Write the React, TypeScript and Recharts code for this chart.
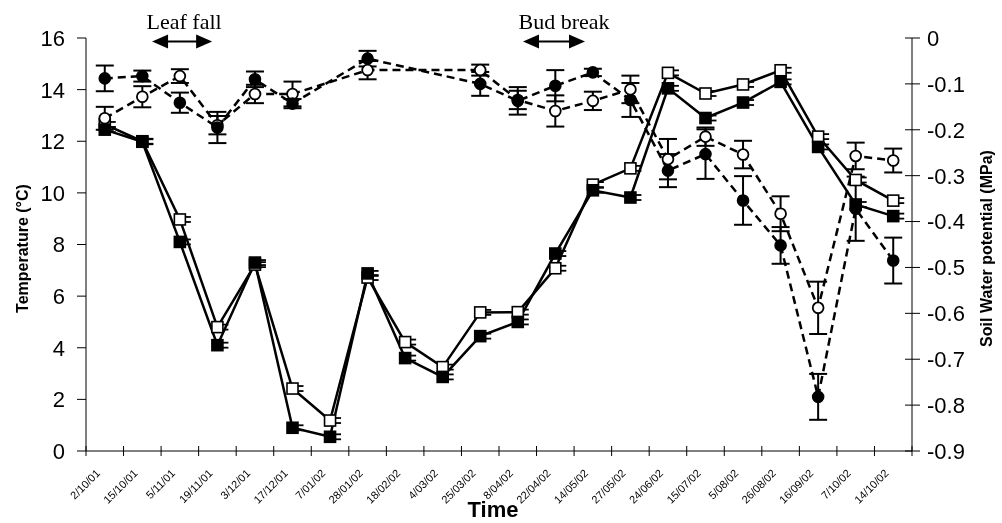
import React from 'react';
import { LineChart, Line, XAxis, YAxis, ErrorBar, ReferenceLine } from 'recharts';

// Sampling dates (one category per date)
const dates = [
  '2/10/01', '15/10/01', '5/11/01', '19/11/01', '3/12/01', '17/12/01', '7/01/02',
  '28/01/02', '18/02/02', '4/03/02', '25/03/02', '8/04/02', '22/04/02', '14/05/02',
  '27/05/02', '24/06/02', '15/07/02', '5/08/02', '26/08/02', '16/09/02', '7/10/02', '14/10/02',
];

// Soil temperature (°C)
const tempFilled = [12.45, 11.98, 8.1, 4.1, 7.3, 0.9, 0.55, 6.88, 3.6, 2.87, 4.45, 5.0, 7.65, 10.1, 9.82, 14.05, 12.9, 13.5, 14.3, 11.78, 9.55, 9.1];
const tempOpen = [12.65, 12.0, 8.97, 4.8, 7.22, 2.42, 1.18, 6.72, 4.22, 3.25, 5.37, 5.38, 7.08, 10.32, 10.95, 14.65, 13.85, 14.2, 14.75, 12.18, 10.5, 9.7];

// Soil water potential (MPa) with standard errors
const wpFilled = [-0.088, -0.083, -0.141, -0.195, -0.09, -0.143, null, -0.045, null, null, -0.1, -0.137, -0.104, -0.075, -0.135, -0.289, -0.253, -0.354, -0.452, -0.782, -0.372, -0.485];
const wpFilledErr = [0.028, 0.012, 0.022, 0.034, 0.017, 0.01, null, 0.017, null, null, 0.026, 0.03, 0.034, 0.008, 0.037, 0.036, 0.054, 0.053, 0.04, 0.05, 0.07, 0.05];
const wpOpen = [-0.175, -0.128, -0.083, -0.19, -0.122, -0.122, null, -0.07, null, null, -0.07, -0.135, -0.159, -0.137, -0.112, -0.264, -0.215, -0.254, -0.383, -0.588, -0.257, -0.267];
const wpOpenErr = [0.025, 0.023, 0.015, 0.02, 0.02, 0.027, null, 0.02, null, null, 0.012, 0.02, 0.034, 0.02, 0.03, 0.044, 0.02, 0.03, 0.038, 0.057, 0.029, 0.026];

// Axis ticks
const tempTicks = [0, 2, 4, 6, 8, 10, 12, 14, 16];
const wpTicks = [0, -0.1, -0.2, -0.3, -0.4, -0.5, -0.6, -0.7, -0.8, -0.9];
const boundaryTicks = [...dates.map((_, i) => i), dates.length];
const labelTicks = dates.map((_, i) => i + 0.5);
const xTicks = [...boundaryTicks, ...labelTicks].sort((a, b) => a - b);

const rows = dates.map((d, i) => ({
  pos: i + 0.5,
  date: d,
  tF: tempFilled[i],
  tO: tempOpen[i],
  wF: wpFilled[i],
  wFErr: wpFilledErr[i],
  wO: wpOpen[i],
  wOErr: wpOpenErr[i],
}));

const SANS = '"Liberation Sans", Arial, Helvetica, sans-serif';
const SERIF = '"Liberation Serif", "Times New Roman", serif';

const XTick = (p: any) => {
  const { x, y, payload, index } = p;
  const v = payload.value;
  if (Number.isInteger(v)) {
    return <line key={`xt-${index}`} x1={x} y1={y - 5} x2={x} y2={y + 5} stroke="#000" strokeWidth={1} />;
  }
  const label = dates[Math.floor(v)];
  const ax = x - 4;
  const ay = y + 23;
  return (
    <text key={`xt-${index}`} x={ax} y={ay} transform={`rotate(-45, ${ax}, ${ay})`} textAnchor="end" fontSize={11} fontFamily={SANS} fill="#000">
      {label}
    </text>
  );
};

const LeftTick = (p: any) => {
  const { x, y, payload, index } = p;
  return (
    <g key={`lt-${index}`}>
      <line x1={x - 9} y1={y} x2={x} y2={y} stroke="#000" strokeWidth={1} />
      <text x={x - 21} y={y} dy="0.36em" textAnchor="end" fontSize={22} fontFamily={SANS} fill="#000">
        {payload.value}
      </text>
    </g>
  );
};

const RightTick = (p: any) => {
  const { x, y, payload, index } = p;
  return (
    <g key={`rt-${index}`}>
      <line x1={x - 7} y1={y} x2={x + 8} y2={y} stroke="#000" strokeWidth={1} />
      <text x={x + 15} y={y} dy="0.36em" textAnchor="start" fontSize={22} fontFamily={SANS} fill="#000">
        {String(payload.value)}
      </text>
    </g>
  );
};

const squareDot = (filled: boolean) => (p: any) => {
  const { cx, cy, index } = p;
  if (cx == null || cy == null || Number.isNaN(cy)) return <g key={`sq-${index}`} />;
  const s = 11;
  return (
    <g key={`sq-${index}`}>
      <line x1={cx + 5} y1={cy - 2.5} x2={cx + 11} y2={cy - 2.5} stroke="#000" strokeWidth={1.8} />
      <line x1={cx + 5} y1={cy + 2.5} x2={cx + 11} y2={cy + 2.5} stroke="#000" strokeWidth={1.8} />
      <rect x={cx - s / 2} y={cy - s / 2} width={s} height={s} fill={filled ? '#000' : '#fff'} stroke="#000" strokeWidth={1.6} />
    </g>
  );
};

const circleDot = (filled: boolean) => (p: any) => {
  const { cx, cy, index } = p;
  if (cx == null || cy == null || Number.isNaN(cy)) return <g key={`ci-${index}`} />;
  return <circle key={`ci-${index}`} cx={cx} cy={cy} r={5.4} fill={filled ? '#000' : '#fff'} stroke="#000" strokeWidth={1.8} />;
};

const SpanArrow = (p: any) => {
  const { x1, y1, x2, text, textDx } = p;
  const L = 16;
  const h = 7;
  return (
    <g>
      <line x1={x1 + L - 2} y1={y1} x2={x2 - L + 2} y2={y1} stroke="#000" strokeWidth={2} />
      <polygon points={`${x1},${y1} ${x1 + L},${y1 - h} ${x1 + L},${y1 + h}`} fill="#000" />
      <polygon points={`${x2},${y1} ${x2 - L},${y1 - h} ${x2 - L},${y1 + h}`} fill="#000" />
      <text x={(x1 + x2) / 2 + textDx} y={y1 - 12.5} textAnchor="middle" fontFamily={SERIF} fontSize={22} fill="#000">
        {text}
      </text>
    </g>
  );
};

const LeftTitle = (p: any) => {
  const vb = p.viewBox || { x: 30, y: 38, width: 56, height: 413 };
  const cx = vb.x - 8;
  const cy = vb.y + vb.height / 2 + 4;
  return (
    <text x={cx} y={cy} transform={`rotate(-90, ${cx}, ${cy})`} textAnchor="middle" dominantBaseline="central" fontFamily={SANS} fontWeight="bold" fontSize={16} fill="#000">
      Temperature (°C)
    </text>
  );
};

const RightTitle = (p: any) => {
  const vb = p.viewBox || { x: 912, y: 38, width: 60, height: 413 };
  const cx = vb.x + 74;
  const cy = vb.y + vb.height / 2 + 4;
  return (
    <text x={cx} y={cy} transform={`rotate(-90, ${cx}, ${cy})`} textAnchor="middle" dominantBaseline="central" fontFamily={SANS} fontWeight="bold" fontSize={16} fill="#000">
      Soil Water potential (MPa)
    </text>
  );
};

const TimeTitle = (p: any) => {
  const vb = p.viewBox || { x: 86, y: 451, width: 826, height: 72 };
  return (
    <text x={vb.x + vb.width / 2 - 6} y={vb.y + 66} textAnchor="middle" fontFamily={SANS} fontWeight="bold" fontSize={22} fill="#000">
      Time
    </text>
  );
};

export default function App() {
  return (
    <div style={{ position: 'absolute', left: 0, top: 0, width: 1002, height: 523, background: '#fff', filter: 'grayscale(1)' }}>
      <LineChart width={1002} height={523} data={rows} margin={{ top: 38, right: 30, left: 30, bottom: 0 }}>
        <XAxis
          type="number"
          dataKey="pos"
          domain={[0, 22]}
          ticks={xTicks}
          interval={0}
          tick={XTick}
          tickLine={false}
          tickSize={0}
          tickMargin={0}
          axisLine={{ stroke: '#000', strokeWidth: 1 }}
          height={72}
          allowDecimals
          label={TimeTitle}
        />
        <YAxis
          yAxisId="left"
          orientation="left"
          domain={[0, 16]}
          ticks={tempTicks}
          interval={0}
          tick={LeftTick}
          tickLine={false}
          tickSize={0}
          tickMargin={0}
          axisLine={{ stroke: '#000', strokeWidth: 1 }}
          width={56}
          label={LeftTitle}
        />
        <YAxis
          yAxisId="right"
          orientation="right"
          domain={[-0.9, 0]}
          ticks={wpTicks}
          interval={0}
          tick={RightTick}
          tickLine={false}
          tickSize={0}
          tickMargin={0}
          axisLine={{ stroke: '#000', strokeWidth: 1 }}
          width={60}
          label={RightTitle}
        />

        <Line yAxisId="left" dataKey="tO" stroke="#000" strokeWidth={2.5} dot={squareDot(false)} activeDot={false} isAnimationActive={false} />
        <Line yAxisId="left" dataKey="tF" stroke="#000" strokeWidth={2.5} dot={squareDot(true)} activeDot={false} isAnimationActive={false} />

        <Line yAxisId="right" dataKey="wO" stroke="#000" strokeWidth={2.5} strokeDasharray="8 5" connectNulls dot={circleDot(false)} activeDot={false} isAnimationActive={false}>
          <ErrorBar dataKey="wOErr" direction="y" width={9} stroke="#000" strokeWidth={2} />
        </Line>
        <Line yAxisId="right" dataKey="wF" stroke="#000" strokeWidth={2.5} strokeDasharray="8 5" connectNulls dot={circleDot(true)} activeDot={false} isAnimationActive={false}>
          <ErrorBar dataKey="wFErr" direction="y" width={9} stroke="#000" strokeWidth={2} />
        </Line>

        <ReferenceLine
          yAxisId="left"
          segment={[{ x: 1.76, y: 15.86 }, { x: 3.36, y: 15.86 }]}
          ifOverflow="visible"
          shape={(p: any) => <SpanArrow {...p} text="Leaf fall" textDx={2} />}
        />
        <ReferenceLine
          yAxisId="left"
          segment={[{ x: 11.64, y: 15.86 }, { x: 13.29, y: 15.86 }]}
          ifOverflow="visible"
          shape={(p: any) => <SpanArrow {...p} text="Bud break" textDx={10} />}
        />
      </LineChart>
    </div>
  );
}
